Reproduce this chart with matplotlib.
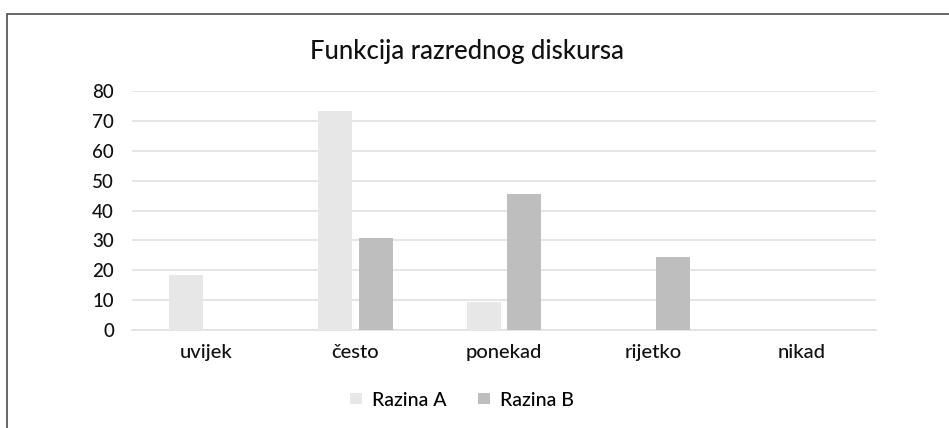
import matplotlib
matplotlib.use("Agg")
import matplotlib.pyplot as plt
import numpy as np
from matplotlib.patches import Rectangle

categories = ["uvijek", "često", "ponekad", "rijetko", "nikad"]
razina_a = [18.4, 73.4, 9.3, 0, 0]
razina_b = [0, 30.8, 45.5, 24.4, 0]
series_names = ["Razina A", "Razina B"]
yticks = [0, 10, 20, 30, 40, 50, 60, 70, 80]

plt.rcParams['font.family'] = ['Lato', 'DejaVu Sans']
plt.rcParams['font.weight'] = 'medium'

fig = plt.figure(figsize=(9.49, 4.28), dpi=100)
W, H = 949, 428
ax = fig.add_axes([132 / W, 1 - 330 / H, (876 - 132) / W, (330 - 91) / H])

x = np.arange(len(categories))
bw = 0.228
gap = 0.047
ax.bar(x - (bw + gap) / 2, razina_a, bw, color="#E7E7E7", label=series_names[0], zorder=3)
ax.bar(x + (bw + gap) / 2, razina_b, bw, color="#BEBEBE", label=series_names[1], zorder=3)

ax.set_xlim(-0.5, len(categories) - 0.5)
ax.set_ylim(0, 80)
ax.set_yticks(yticks)
ax.set_xticks(x)
ax.set_xticklabels(categories, fontsize=14.5, color="#111111")
ax.tick_params(axis='y', labelsize=13.5, colors="#111111", length=0, pad=13)
ax.tick_params(axis='x', length=0, pad=10)
ax.grid(axis='y', color="#E0E0E0", linewidth=1.2, zorder=0)
for s in ["top", "right", "left"]:
    ax.spines[s].set_visible(False)
ax.spines["bottom"].set_color("#E0E0E0")
ax.spines["bottom"].set_linewidth(1.2)

fig.text(467 / W, 1 - 52 / H, "Funkcija razrednog diskursa", ha="center", va="center",
         fontsize=18.5, color="#111111")

leg = fig.legend(loc="center", bbox_to_anchor=(462 / W, 1 - 400 / H), ncol=2, frameon=False,
                 fontsize=14, handlelength=0.65, handleheight=0.5, columnspacing=1.6,
                 handletextpad=0.5)

fig.patches.append(Rectangle((6.5 / W, -0.5), 2, 1.5 - 13.5 / H, transform=fig.transFigure,
                             fill=False, edgecolor="#5a5a5a", linewidth=1.3, clip_on=False))

fig.savefig("out.png", dpi=100, facecolor="white")
